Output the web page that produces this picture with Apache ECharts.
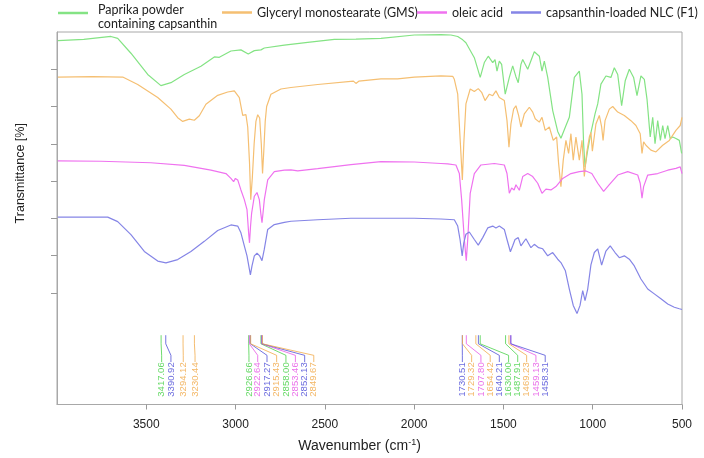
<!DOCTYPE html>
<html>
<head>
<meta charset="utf-8">
<script src="https://cdn.jsdelivr.net/npm/echarts@6/dist/echarts.min.js"></script>
<style>html,body{margin:0;padding:0;background:#fff}#c{width:704px;height:458px}</style>
</head>
<body>
<div id="c"></div>
<script>
// ---------- DATA ----------
const seriesNames = ["Paprika powder\ncontaining capsanthin", "Glyceryl monostearate (GMS)", "oleic acid", "capsanthin-loaded NLC (F1)"];

const paprika = [[3995,9.77],[3850,9.80],[3698,9.88],[3660,9.83],[3586,9.43],[3492,8.86],[3418,8.56],[3362,8.64],[3287,8.86],[3194,9.08],[3119,9.33],[3091,9.32],[3026,9.49],[2970,9.52],[2929,9.41],[2895,9.50],[2858,9.52],[2839,9.57],[2727,9.65],[2596,9.72],[2447,9.80],[2326,9.81],[2186,9.83],[1999,9.92],[1850,9.93],[1794,9.92],[1756,9.88],[1728,9.79],[1710,9.71],[1663,9.31],[1630,8.78],[1607,9.18],[1585,9.35],[1560,9.18],[1547,9.26],[1536,8.95],[1523,9.22],[1510,9.13],[1490,8.33],[1467,8.78],[1448,9.09],[1430,8.80],[1417,8.64],[1402,9.13],[1392,9.26],[1364,9.00],[1327,9.47],[1299,9.35],[1284,8.95],[1271,9.22],[1252,8.78],[1224,7.89],[1196,7.33],[1178,7.15],[1153,7.45],[1131,7.71],[1103,8.78],[1075,8.95],[1060,8.33],[1051,7.00],[1043,6.38],[1028,6.83],[1010,7.30],[987,7.80],[972,8.07],[954,8.60],[926,8.82],[898,8.78],[879,9.04],[860,8.86],[838,8.02],[818,8.69],[795,9.00],[771,8.78],[752,8.29],[730,8.82],[711,8.73],[696,8.20],[678,7.18],[664,7.71],[651,7.00],[636,7.62],[621,7.09],[608,7.49],[595,7.14],[580,7.49],[566,7.14],[552,7.18],[534,7.14],[515,7.09],[502,6.74]];

const gms = [[3995,8.79],[3800,8.80],[3632,8.79],[3548,8.59],[3436,8.24],[3362,7.93],[3324,7.70],[3296,7.60],[3259,7.66],[3231,7.63],[3203,7.75],[3166,8.06],[3100,8.30],[3044,8.39],[3007,8.42],[2979,8.24],[2960,7.76],[2951,7.71],[2942,7.78],[2932,7.45],[2922,6.50],[2915,5.50],[2906,6.10],[2896,7.00],[2886,7.60],[2876,7.78],[2865,7.69],[2856,7.00],[2849,6.20],[2842,6.80],[2834,7.60],[2826,8.00],[2802,8.33],[2746,8.47],[2690,8.51],[2540,8.59],[2340,8.68],[2326,8.62],[2310,8.68],[2186,8.74],[2093,8.74],[1999,8.79],[1850,8.82],[1784,8.81],[1775,8.73],[1756,8.33],[1741,7.00],[1730,6.03],[1722,7.00],[1710,8.07],[1686,8.47],[1663,8.40],[1641,8.48],[1622,8.38],[1603,8.16],[1579,8.33],[1560,8.29],[1542,8.42],[1523,8.24],[1495,8.16],[1480,7.62],[1469,6.91],[1458,7.53],[1443,7.93],[1430,8.02],[1415,7.76],[1402,7.45],[1383,7.80],[1355,7.98],[1336,7.85],[1322,7.67],[1299,7.58],[1284,7.71],[1266,7.36],[1243,7.45],[1221,7.09],[1202,7.18],[1191,6.47],[1178,5.85],[1165,6.56],[1150,7.09],[1135,6.74],[1122,7.27],[1109,6.56],[1094,7.18],[1075,6.56],[1060,7.09],[1047,6.12],[1034,6.74],[1019,7.18],[1010,7.30],[1002,6.80],[982,7.53],[963,7.76],[950,7.45],[942,7.09],[931,7.62],[907,7.93],[888,8.00],[860,7.85],[823,7.76],[786,7.62],[758,7.49],[734,7.27],[724,6.74],[715,7.05],[702,6.96],[674,6.83],[646,6.78],[608,6.96],[571,7.09],[534,7.36],[510,7.49],[500,7.71]];

const oleic = [[3995,6.54],[3754,6.53],[3474,6.49],[3287,6.42],[3138,6.29],[3054,6.20],[3026,6.07],[3011,5.98],[3001,6.07],[2988,6.03],[2970,5.76],[2951,5.50],[2936,5.23],[2927,4.61],[2922,4.34],[2916,4.80],[2910,5.14],[2895,5.59],[2880,5.69],[2867,5.50],[2858,5.10],[2852,4.88],[2845,5.20],[2839,5.50],[2820,6.03],[2783,6.25],[2727,6.29],[2690,6.30],[2652,6.27],[2540,6.33],[2354,6.44],[2186,6.52],[1999,6.51],[1850,6.47],[1812,6.46],[1766,6.43],[1747,6.20],[1734,5.50],[1719,4.43],[1708,3.86],[1700,4.43],[1686,5.67],[1663,6.20],[1626,6.43],[1551,6.47],[1495,6.43],[1480,6.20],[1467,5.67],[1454,5.81],[1440,5.76],[1430,5.90],[1411,5.75],[1392,6.12],[1364,6.20],[1336,6.12],[1308,5.94],[1284,5.67],[1262,5.78],[1234,5.76],[1206,5.85],[1168,6.07],[1122,6.20],[1075,6.25],[1038,6.27],[1005,6.20],[972,5.94],[939,5.72],[907,5.90],[860,6.16],[804,6.25],[748,6.16],[734,5.94],[724,5.54],[715,5.85],[692,6.16],[636,6.20],[580,6.29],[534,6.34],[510,6.38],[500,6.20]];

const nlcF1 = [[3995,5.03],[3716,5.03],[3660,4.91],[3586,4.56],[3511,4.11],[3436,3.85],[3390,3.80],[3324,3.89],[3250,4.11],[3175,4.38],[3100,4.67],[3026,4.82],[2988,4.79],[2970,4.61],[2951,4.26],[2936,3.99],[2923,3.64],[2917,3.48],[2908,3.72],[2895,3.99],[2880,4.06],[2865,3.99],[2852,3.86],[2839,4.17],[2820,4.70],[2783,4.83],[2727,4.89],[2690,4.92],[2540,4.96],[2354,5.00],[2186,5.00],[1999,5.00],[1850,4.98],[1775,4.96],[1756,4.79],[1743,4.43],[1731,3.99],[1722,4.34],[1710,4.57],[1691,4.63],[1663,4.43],[1641,4.28],[1616,4.48],[1588,4.74],[1560,4.79],[1542,4.74],[1523,4.79],[1495,4.70],[1480,4.43],[1461,4.10],[1448,4.26],[1435,4.43],[1417,4.48],[1402,4.26],[1374,4.45],[1346,4.21],[1327,4.30],[1303,4.21],[1280,4.18],[1252,3.99],[1224,4.08],[1196,3.90],[1178,3.81],[1153,3.59],[1131,3.10],[1109,2.66],[1088,2.44],[1071,2.66],[1056,3.06],[1043,2.79],[1028,3.10],[1010,3.75],[991,4.08],[972,4.18],[950,3.74],[926,4.12],[902,4.26],[875,4.08],[851,3.94],[823,3.99],[795,3.90],[767,3.72],[730,3.37],[692,3.10],[655,2.97],[618,2.84],[580,2.70],[543,2.61],[515,2.57],[500,2.55]];

// peak annotations: wavenumber, which spectrum (0 paprika,1 GMS,2 oleic,3 F1), label position
const peakWn    = [3417.06, 3390.92, 3294.12, 3230.44, 2926.66, 2922.64, 2917.27, 2915.43, 2858.00, 2853.46, 2852.13, 2849.67, 1730.51, 1729.32, 1707.80, 1654.42, 1640.21, 1630.00, 1487.91, 1469.23, 1459.13, 1458.31];
const peakGroup = [0, 3, 1, 1, 0, 2, 3, 1, 0, 2, 3, 1, 3, 1, 2, 1, 3, 0, 0, 1, 2, 3];
const peakLabelWn = [3414, 3362, 3293, 3227, 2925, 2876, 2824, 2770, 2718, 2665, 2613, 2562, 1730, 1678, 1626, 1574, 1523, 1471, 1420, 1370, 1318, 1266];

const xTicks = [500, 1000, 1500, 2000, 2500, 3000, 3500];
const yTicks = [3, 4, 5, 6, 7, 8, 9];

// ---------- STYLE ----------
const lineColors = ['#84e384', '#f5bf72', '#ef72ef', '#8585e6'];
const textColors = ['#3fcf3f', '#f0a540', '#e54de5', '#4646d6'];
const LEAD = [1.86, 1.63, 1.32, 1.14];
const LABEL_Y = 0.21;
const LEGEND_FONT = "'Liberation Sans Narrow', 'Arial Narrow', Lato, sans-serif";

const spectra = [paprika, gms, oleic, nlcF1];
const series = spectra.map((d, i) => ({
  name: seriesNames[i], type: 'line', data: d, symbol: 'none', showSymbol: false,
  lineStyle: {color: lineColors[i], width: 1.2}, itemStyle: {color: lineColors[i]},
  z: 3, silent: true, animation: false
}));

peakWn.forEach((p, k) => {
  const lw = peakLabelWn[k];
  series.push({
    type: 'line', symbol: 'none', silent: true, animation: false, z: 2,
    data: [[p, LEAD[0]], [p, LEAD[1]], [lw, LEAD[2]], [lw, LEAD[3]]],
    lineStyle: {color: textColors[peakGroup[k]], width: 1, opacity: 0.75}
  });
});

series.push({
  type: 'scatter', symbolSize: 0, silent: true, animation: false, z: 4,
  data: peakWn.map((p, k) => ({
    value: [peakLabelWn[k], LABEL_Y],
    label: {color: textColors[peakGroup[k]]}
  })),
  label: {
    show: true, position: 'inside', rotate: 90, align: 'left', verticalAlign: 'middle',
    fontSize: 9.5, fontFamily: 'Liberation Sans',
    formatter: (prm) => peakWn[prm.dataIndex].toFixed(2)
  }
});

const legendBase = {
  padding: 0, itemWidth: 30, itemHeight: 2.5, orient: 'horizontal', icon: 'rect',
  textStyle: {fontFamily: LEGEND_FONT, fontSize: 12.5, color: '#222'},
  selectedMode: false
};
const legendLefts = [58, 222, 417, 511];
const richBase = {fontFamily: LEGEND_FONT, fontSize: 12.5, color: '#222', lineHeight: 14, padding: [0, 0, 0, 5]};
const legends = seriesNames.map((n, i) => Object.assign({}, legendBase, {
  left: legendLefts[i],
  top: i === 0 ? -5 : 6,
  data: [{name: n, itemStyle: {color: lineColors[i]}}]
}, i === 0 ? {
  formatter: (nm) => '{e| }\n' + nm.split('\n').map((s) => '{t|' + s + '}').join('\n'),
  textStyle: {
    fontFamily: LEGEND_FONT, fontSize: 12.5, color: '#222',
    rich: {
      e: {fontSize: 1, lineHeight: 8, height: 8},
      t: Object.assign({}, richBase, {height: 14})
    }
  }
} : {}));

const chart = echarts.init(document.getElementById('c'), null, {renderer: 'canvas'});
chart.setOption({
  animation: false,
  backgroundColor: '#fff',
  legend: legends,
  grid: {left: 57, right: 22, top: 32, bottom: 50, show: true, borderColor: '#a8a8a8', borderWidth: 1, containLabel: false},
  xAxis: {
    type: 'value', inverse: true, min: 500, max: 4000, interval: 500,
    axisLine: {show: true, lineStyle: {color: '#a8a8a8'}},
    axisTick: {show: true, length: 5, lineStyle: {color: '#999'}, customValues: xTicks},
    axisLabel: {color: '#222', fontSize: 12, fontFamily: 'Liberation Sans', margin: 14, customValues: xTicks,
      formatter: (v) => String(v)},
    splitLine: {show: false},
    name: 'Wavenumber (cm{sup|-1})', nameLocation: 'middle', nameGap: 34,
    nameTextStyle: {
      color: '#222', fontSize: 14, fontFamily: 'Liberation Sans', padding: [0, 20, 0, 0],
      rich: {sup: {fontSize: 9, fontFamily: 'Liberation Sans', color: '#222', verticalAlign: 'top', padding: [0, 0, 6, 0]}}
    }
  },
  yAxis: {
    type: 'value', min: 0, max: 10, interval: 1,
    axisLine: {show: true, lineStyle: {color: '#a8a8a8'}},
    axisTick: {show: true, length: 6, lineStyle: {color: '#999'}, customValues: yTicks},
    axisLabel: {show: false},
    splitLine: {show: false},
    name: 'Transmittance [%]', nameLocation: 'middle', nameGap: 30,
    nameTextStyle: {color: '#222', fontSize: 12.5, fontFamily: 'Liberation Sans', padding: [0, 0, 0, 90]}
  },
  series: series
});
</script>
</body>
</html>
